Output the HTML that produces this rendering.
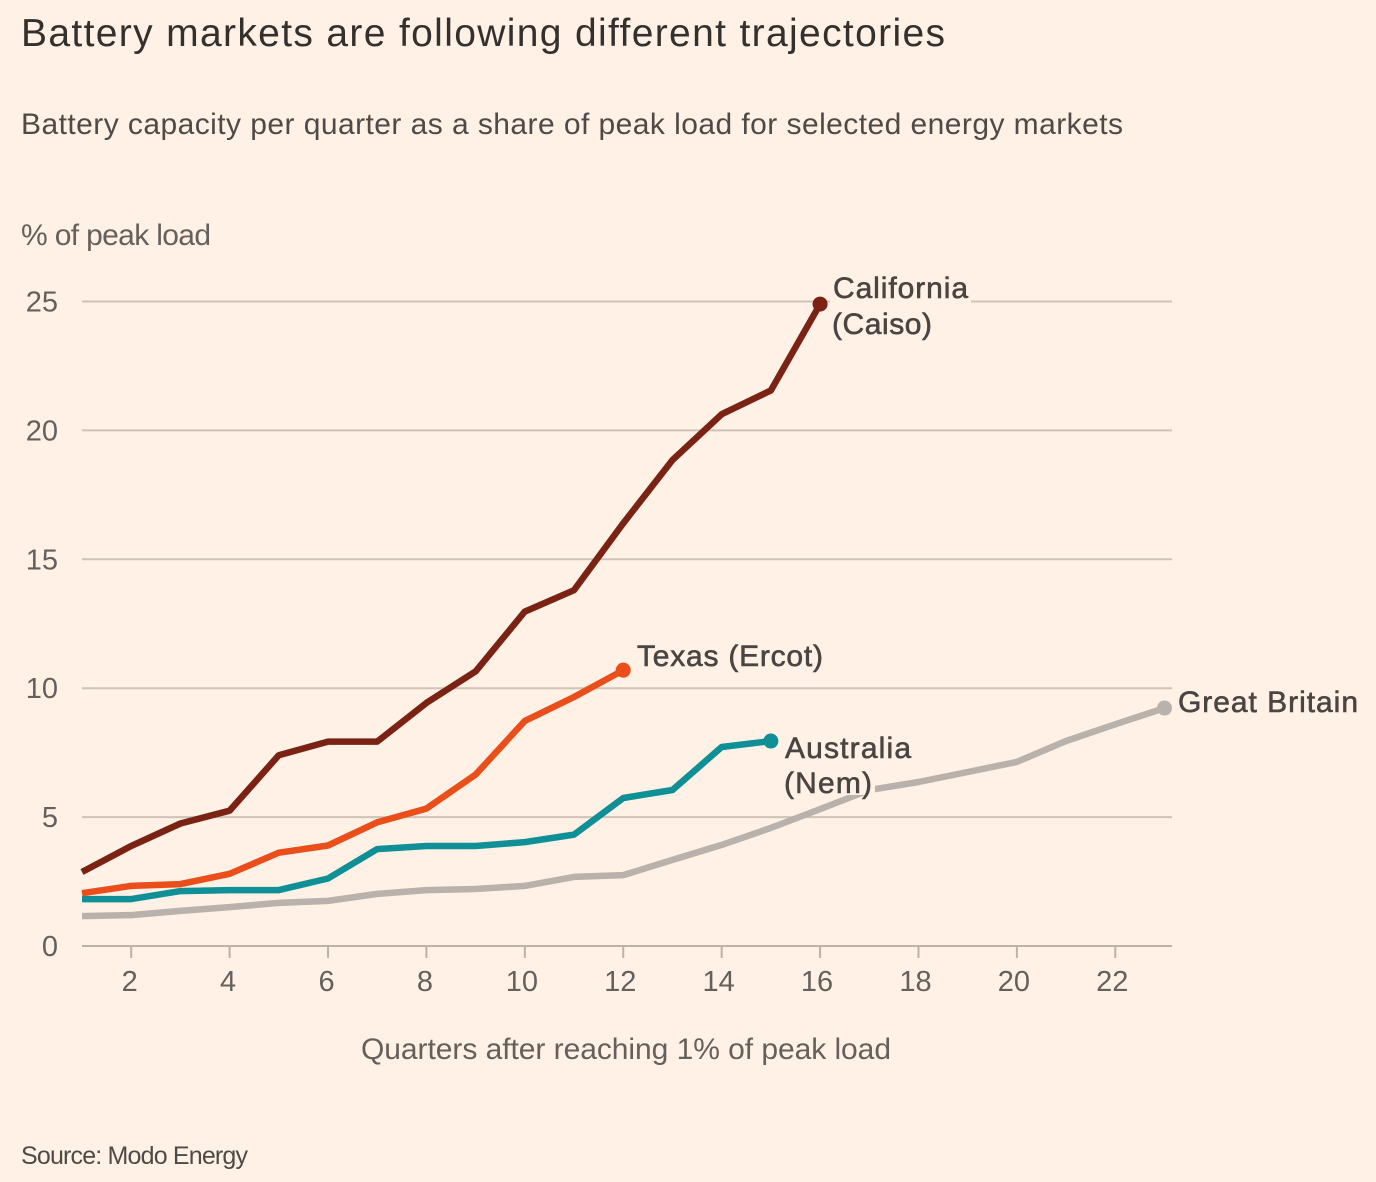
<!DOCTYPE html>
<html lang="en">
<head>
<meta charset="utf-8">
<title>Battery markets are following different trajectories</title>
<style>
html,body{margin:0;padding:0;background:#fff1e5;}
svg{display:block;font-family:"Liberation Sans",sans-serif;}
</style>
</head>
<body>
<svg id="chart" xmlns="http://www.w3.org/2000/svg" width="1376" height="1182" viewBox="0 0 1376 1182">
  <rect width="1376" height="1182" fill="#fff1e5"/>
  <text x="21" y="46" font-size="39" fill="#33302e" textLength="924" lengthAdjust="spacing">Battery markets are following different trajectories</text>
  <text x="21" y="134" font-size="30" fill="#4f4a47" textLength="1102" lengthAdjust="spacing">Battery capacity per quarter as a share of peak load for selected energy markets</text>
  <text x="21" y="245" font-size="30" fill="#66605c" textLength="190" lengthAdjust="spacing">% of peak load</text>
  <text x="361" y="1059" font-size="30" fill="#66605c" textLength="530" lengthAdjust="spacing">Quarters after reaching 1% of peak load</text>
  <text x="21" y="1164" font-size="25" fill="#4f4a47" textLength="227" lengthAdjust="spacing">Source: Modo Energy</text>
  <g id="grid"></g>
  <g id="series"></g>
  <rect x="830" y="278" width="141" height="30" fill="#fff1e5"/>
  <rect x="781" y="768" width="94" height="27" fill="#fff1e5"/>
  <g id="labels"></g>
</svg>
<script>
const yTicks = [0, 5, 10, 15, 20, 25];
const xTicks = [2, 4, 6, 8, 10, 12, 14, 16, 18, 20, 22];
const california = [2.87, 3.88, 4.75, 5.25, 7.4, 7.93, 7.93, 9.43, 10.65, 12.97, 13.8, 16.4, 18.85, 20.63, 21.55, 24.9];
const texas = [2.05, 2.33, 2.4, 2.8, 3.62, 3.9, 4.8, 5.33, 6.65, 8.73, 9.66, 10.7];
const australia = [1.82, 1.82, 2.13, 2.17, 2.17, 2.62, 3.76, 3.88, 3.88, 4.03, 4.32, 5.74, 6.05, 7.72, 7.95];
const greatBritain = [1.16, 1.2, 1.36, 1.51, 1.67, 1.75, 2.02, 2.17, 2.21, 2.33, 2.68, 2.75, 3.34, 3.92, 4.58, 5.31, 6.05, 6.36, 6.75, 7.14, 7.95, 8.6, 9.23];

const NS = 'http://www.w3.org/2000/svg';
const xScale = q => 82 + (q - 1) * (1164.5 - 82) / 22;
const yScale = v => 946 - v * (946 - 301.5) / 25;

function make(tag, attrs, parent, text) {
  const el = document.createElementNS(NS, tag);
  for (const k in attrs) el.setAttribute(k, attrs[k]);
  if (text !== undefined) el.textContent = text;
  parent.appendChild(el);
  return el;
}

const grid = document.getElementById('grid');
yTicks.forEach(t => {
  const line = make('line', {x1: 82, x2: 1172, y1: yScale(t), y2: yScale(t), stroke: t === 0 ? '#bdb2a8' : '#cfc3b7', 'stroke-width': 2}, grid);
  
  
  const label = make('text', {x: 58, y: yScale(t) + 10, 'text-anchor': 'end', 'font-size': 29, fill: '#66605c'}, grid, String(t));
  
  
});
xTicks.forEach(t => {
  const tick = make('line', {x1: xScale(t), x2: xScale(t), y1: 946, y2: 958, stroke: '#bdb2a8', 'stroke-width': 2}, grid);
  
  
  const label = make('text', {x: xScale(t) - (t >= 10 ? 3 : 1.5), y: 991, 'text-anchor': 'middle', 'font-size': 29, fill: '#66605c'}, grid, String(t));
  
  
});

const seriesGroup = document.getElementById('series');
function drawSeries(values, color, name) {
  const pts = values.map((v, i) => xScale(i + 1).toFixed(1) + ',' + yScale(v).toFixed(1)).join(' ');
  const line = make('polyline', {points: pts, fill: 'none', stroke: color, 'stroke-width': 6.5, 'stroke-linejoin': 'round', 'stroke-linecap': 'butt'}, seriesGroup);
  
  
  const last = values.length - 1;
  const dot = make('circle', {cx: xScale(last + 1), cy: yScale(values[last]), r: 7.5, fill: color}, seriesGroup);
  
  
}
drawSeries(greatBritain, '#b9b1ac', 'great-britain');
drawSeries(australia, '#0f8f96', 'australia');
drawSeries(texas, '#ea4e1b', 'texas');
drawSeries(california, '#7a2213', 'california');

const labelGroup = document.getElementById('labels');
function drawLabel(str, x, y, len, name) {
  const t = make('text', {x: x, y: y, 'font-size': 30, fill: '#4a4542', stroke: '#4a4542', 'stroke-width': 0.6, textLength: len, lengthAdjust: 'spacing'}, labelGroup, str);
  
  
}
drawLabel('California', 833, 298, 135, 'california-label');
drawLabel('(Caiso)', 832, 334, 100, 'california-label-market');
drawLabel('Texas (Ercot)', 637, 666, 186, 'texas-label');
drawLabel('Australia', 785, 758, 126, 'australia-label');
drawLabel('(Nem)', 784, 793, 88, 'australia-label-market');
drawLabel('Great Britain', 1178, 712, 180, 'great-britain-label');
</script>
</body>
</html>
